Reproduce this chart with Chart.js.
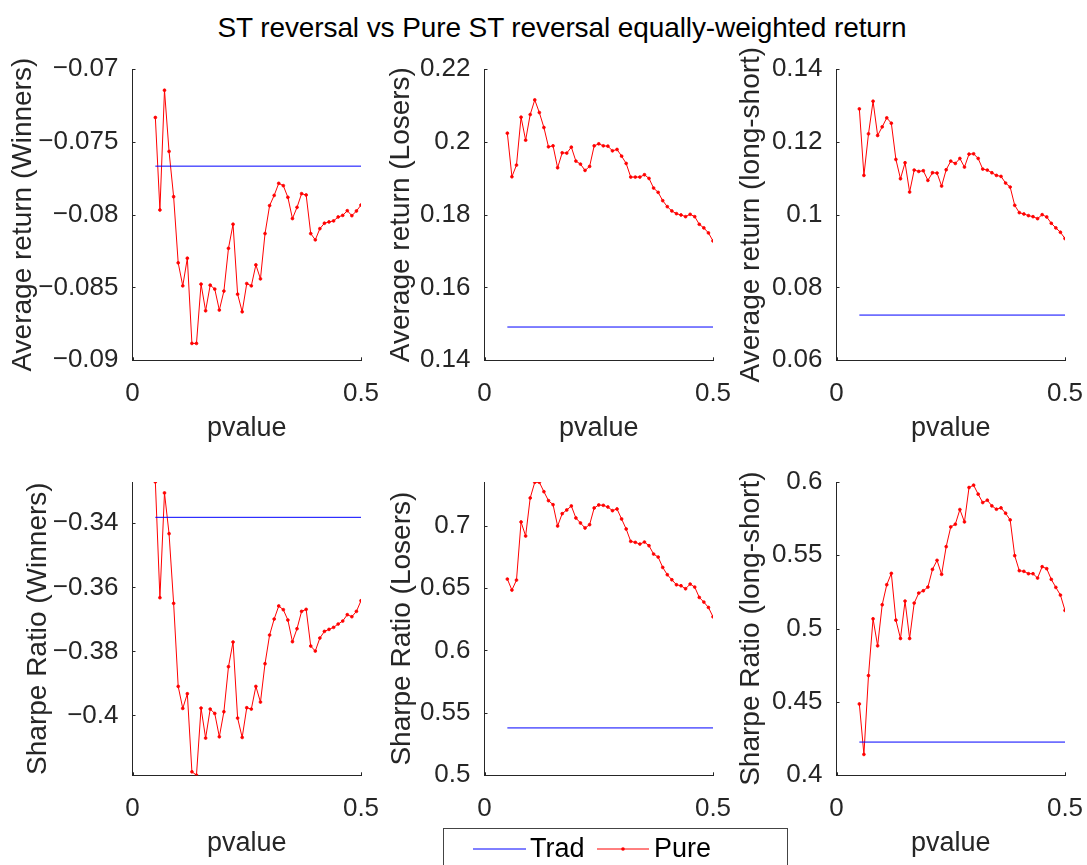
<!DOCTYPE html>
<html><head><meta charset="utf-8">
<script src="https://cdn.jsdelivr.net/npm/chart.js@4/dist/chart.umd.min.js"></script>
<style>
body{margin:0;background:#fff;width:1087px;height:865px;overflow:hidden;position:relative;font-family:'Liberation Sans',Arial,sans-serif;}
canvas{position:absolute;}
#title{position:absolute;left:0;width:1124px;top:12px;text-align:center;font-size:28px;line-height:32px;color:#000;white-space:nowrap;letter-spacing:-0.1px;}
#legend{position:absolute;left:443px;top:828px;width:345px;height:50px;border:1px solid #444;box-sizing:border-box;background:#fff;font-size:27px;color:#000;}
.lt{position:absolute;top:4px;line-height:31px;}
#legcv{position:absolute;left:0;top:0;}
</style></head><body>
<div id="title">ST reversal vs Pure ST reversal equally-weighted return</div>
<canvas id="c0"></canvas><canvas id="c1"></canvas><canvas id="c2"></canvas>
<canvas id="c3"></canvas><canvas id="c4"></canvas><canvas id="c5"></canvas>
<div id="legend">
  <canvas id="legcv" width="343" height="40"></canvas>
  <div class="lt" style="left:86px">Trad</div>
  <div class="lt" style="left:210px">Pure</div>
</div>
<script>
// ---- data ----
const pvalue = [0.05,0.06,0.07,0.08,0.09,0.10,0.11,0.12,0.13,0.14,0.15,0.16,0.17,0.18,0.19,0.20,0.21,0.22,0.23,0.24,0.25,0.26,0.27,0.28,0.29,0.30,0.31,0.32,0.33,0.34,0.35,0.36,0.37,0.38,0.39,0.40,0.41,0.42,0.43,0.44,0.45,0.46,0.47,0.48,0.49,0.50];
const xTicks = [0, 0.5];

const pureRetWinners = [-0.07333,-0.07968,-0.07146,-0.07566,-0.07877,-0.08331,-0.08489,-0.08299,-0.08884,-0.08884,-0.08477,-0.08660,-0.08484,-0.08511,-0.08655,-0.08525,-0.08231,-0.08066,-0.08546,-0.08667,-0.08473,-0.08489,-0.08345,-0.08441,-0.08130,-0.07938,-0.07868,-0.07785,-0.07801,-0.07881,-0.08027,-0.07950,-0.07856,-0.07865,-0.08130,-0.08173,-0.08096,-0.08059,-0.08050,-0.08043,-0.08016,-0.08005,-0.07973,-0.08007,-0.07975,-0.07934];
const tradRetWinners = -0.07667;
const ticksRetWinners = [-0.09,-0.085,-0.08,-0.075,-0.07];

const pureRetLosers = [0.20237,0.19041,0.19361,0.20676,0.20046,0.20749,0.21151,0.20804,0.20393,0.19863,0.19890,0.19288,0.19699,0.19690,0.19854,0.19470,0.19388,0.19215,0.19324,0.19890,0.19945,0.19890,0.19881,0.19753,0.19790,0.19607,0.19406,0.19032,0.19032,0.19032,0.19096,0.18995,0.18731,0.18612,0.18384,0.18219,0.18101,0.18027,0.17991,0.17945,0.18009,0.17945,0.17735,0.17635,0.17498,0.17279];
const tradRetLosers = 0.14914;
const ticksRetLosers = [0.14,0.16,0.18,0.2,0.22];

const pureRetLS = [0.12904,0.11078,0.12219,0.13114,0.12174,0.12411,0.12658,0.12511,0.11516,0.10986,0.11425,0.10621,0.11224,0.11187,0.11206,0.10941,0.11151,0.11142,0.10785,0.11233,0.11470,0.11406,0.11543,0.11306,0.11662,0.11671,0.11543,0.11251,0.11224,0.11151,0.11078,0.11050,0.10868,0.10758,0.10256,0.10055,0.10018,0.09973,0.09945,0.09890,0.10000,0.09936,0.09763,0.09635,0.09516,0.09343];
const tradRetLS = 0.07242;
const ticksRetLS = [0.06,0.08,0.1,0.12,0.14];

const pureSRWinners = [-0.32708,-0.36323,-0.33052,-0.34323,-0.36500,-0.39094,-0.39781,-0.39323,-0.41760,-0.41865,-0.39771,-0.40708,-0.39802,-0.39938,-0.40667,-0.39885,-0.38479,-0.37708,-0.40083,-0.40688,-0.39760,-0.39802,-0.39094,-0.39583,-0.38385,-0.37490,-0.36990,-0.36583,-0.36698,-0.37021,-0.37698,-0.37292,-0.36750,-0.36688,-0.37833,-0.37990,-0.37583,-0.37375,-0.37313,-0.37250,-0.37146,-0.37052,-0.36854,-0.36917,-0.36750,-0.36417];
const tradSRWinners = -0.33813;
const ticksSRWinners = [-0.4,-0.38,-0.36,-0.34];

const pureSRLosers = [0.65722,0.64840,0.65642,0.70294,0.69171,0.72219,0.73476,0.73476,0.72727,0.72005,0.71684,0.69973,0.70963,0.71257,0.71578,0.70615,0.70214,0.69813,0.70080,0.71417,0.71658,0.71631,0.71497,0.71203,0.71337,0.70535,0.69733,0.68743,0.68663,0.68529,0.68690,0.68396,0.67727,0.67487,0.66658,0.66070,0.65668,0.65267,0.65187,0.64947,0.65321,0.65080,0.64251,0.63877,0.63449,0.62700];
const tradSRLosers = 0.53796;
const ticksSRLosers = [0.5,0.55,0.6,0.65,0.7];

const pureSRLS = [0.44863,0.41423,0.46799,0.50672,0.48827,0.51629,0.52995,0.53770,0.50581,0.49328,0.51879,0.49328,0.51742,0.52426,0.52585,0.52836,0.54043,0.54658,0.53701,0.55592,0.56936,0.57119,0.58121,0.57278,0.59624,0.59784,0.59169,0.58599,0.58759,0.58371,0.58144,0.58235,0.57870,0.57415,0.54977,0.53952,0.53907,0.53747,0.53747,0.53451,0.54225,0.54089,0.53360,0.52813,0.52289,0.51241];
const tradSRLS = 0.42266;
const ticksSRLS = [0.4,0.45,0.5,0.55,0.6];

const yLabels = ['Average return (Winners)','Average return (Losers)','Average return (long-short)','Sharpe Ratio (Winners)','Sharpe Ratio (Losers)','Sharpe Ratio (long-short)'];

// ---- layout ----
const panels = [
  {pure:pureRetWinners, trad:tradRetWinners, ticks:ticksRetWinners, min:-0.09, max:-0.07, labelX:23, L:132.5, R:361, T:69, B:360.5},
  {pure:pureRetLosers, trad:tradRetLosers, ticks:ticksRetLosers, min:0.14, max:0.22, labelX:401, L:484.5, R:713, T:69, B:360.5},
  {pure:pureRetLS, trad:tradRetLS, ticks:ticksRetLS, min:0.06, max:0.14, labelX:751, L:836.5, R:1065, T:69, B:360.5},
  {pure:pureSRWinners, trad:tradSRWinners, ticks:ticksSRWinners, min:-0.4187, max:-0.3271, labelX:38, L:132.5, R:361, T:482, B:775},
  {pure:pureSRLosers, trad:tradSRLosers, ticks:ticksSRLosers, min:0.5, max:0.735, labelX:402, L:484.5, R:713, T:482, B:775},
  {pure:pureSRLS, trad:tradSRLS, ticks:ticksSRLS, min:0.4, max:0.6, labelX:751, L:836.5, R:1065, T:482, B:775}
];

const AX = '#262626';
const FONT = 'Liberation Sans';
const TICK_SIZE = 26, YLABEL_SIZE = 28, XLABEL_SIZE = 27;
const PAD_TOP = 26, PAD_RIGHT = 40;
const TICK_PAD = 10, XTITLE_MID = 68.5;

function fmt(v){ return String(+v.toFixed(4)).replace('-', '\u2212'); }

const inwardTicks = {
  id:'inwardTicks',
  afterDraw(chart){
    const {ctx, chartArea:a, scales:{x, y}} = chart;
    ctx.save(); ctx.strokeStyle = AX; ctx.lineWidth = 1; ctx.beginPath();
    y.ticks.forEach(t => { const py = Math.round(y.getPixelForValue(t.value)) + 0.5; ctx.moveTo(a.left, py); ctx.lineTo(a.left + 3, py); });
    x.ticks.forEach(t => { const px = Math.round(x.getPixelForValue(t.value)) + 0.5; ctx.moveTo(px, a.bottom); ctx.lineTo(px, a.bottom - 3); });
    ctx.stroke(); ctx.restore();
  }
};

panels.forEach((p, i) => {
  const cv = document.getElementById('c' + i);
  const yLH = YLABEL_SIZE * 1.2, xLH = XLABEL_SIZE * 1.2;
  const left = Math.round(p.labelX - yLH / 2);
  const top = Math.round(p.T - PAD_TOP);
  const yW = p.L - left;
  const xH = XTITLE_MID + xLH / 2;
  const w = Math.round(p.R + PAD_RIGHT - left);
  const h = Math.round(p.B - top + xH);
  cv.style.left = left + 'px'; cv.style.top = top + 'px';
  cv.width = w; cv.height = h; cv.style.width = w + 'px'; cv.style.height = h + 'px';
  new Chart(cv, {
    type: 'line',
    data: { datasets: [
      { label:'Trad', data:[{x:pvalue[0], y:p.trad}, {x:pvalue[pvalue.length-1], y:p.trad}], borderColor:'#0000ff', borderWidth:1, pointRadius:0, fill:false },
      { label:'Pure', data:pvalue.map((x, k) => ({x, y:p.pure[k]})), borderColor:'#ff0000', backgroundColor:'#ff0000', borderWidth:1, pointRadius:1.4, pointBorderWidth:0.8, pointBorderColor:'#ff0000', fill:false, tension:0 }
    ]},
    options: {
      responsive:false, animation:false, devicePixelRatio:1,
      layout:{ padding:{ top:PAD_TOP, right:PAD_RIGHT, left:0, bottom:0 } },
      plugins:{ legend:{display:false}, tooltip:{enabled:false}, title:{display:false} },
      scales:{
        x:{ type:'linear', min:0, max:0.5,
          afterBuildTicks:s => { s.ticks = xTicks.map(v => ({value:v})); },
          afterFit:s => { s.height = xH; },
          grid:{display:false}, border:{display:true, color:AX, width:1},
          ticks:{ color:AX, font:{family:FONT, size:TICK_SIZE}, padding:TICK_PAD, maxRotation:0, autoSkip:false, callback:v => fmt(v) },
          title:{ display:true, text:'pvalue', color:AX, font:{family:FONT, size:XLABEL_SIZE}, padding:0 } },
        y:{ type:'linear', min:p.min, max:p.max,
          afterBuildTicks:s => { s.ticks = p.ticks.map(v => ({value:v})); },
          afterFit:s => { s.width = yW; },
          grid:{display:false}, border:{display:true, color:AX, width:1},
          ticks:{ color:AX, font:{family:FONT, size:TICK_SIZE}, padding:6, autoSkip:false, callback:v => fmt(v) },
          title:{ display:true, text:yLabels[i], color:AX, font:{family:FONT, size:YLABEL_SIZE}, padding:0 } }
      }
    },
    plugins:[inwardTicks]
  });
});

// legend line samples (same line styles as the datasets)
(function(){
  const c = document.getElementById('legcv').getContext('2d');
  c.lineWidth = 1;
  c.strokeStyle = '#0000ff'; c.beginPath(); c.moveTo(29, 20); c.lineTo(82, 20); c.stroke();
  c.strokeStyle = '#ff0000'; c.beginPath(); c.moveTo(153, 20); c.lineTo(205, 20); c.stroke();
  c.fillStyle = '#ff0000'; c.beginPath(); c.arc(179, 20, 1.8, 0, Math.PI * 2); c.fill();
})();
</script>
</body></html>
